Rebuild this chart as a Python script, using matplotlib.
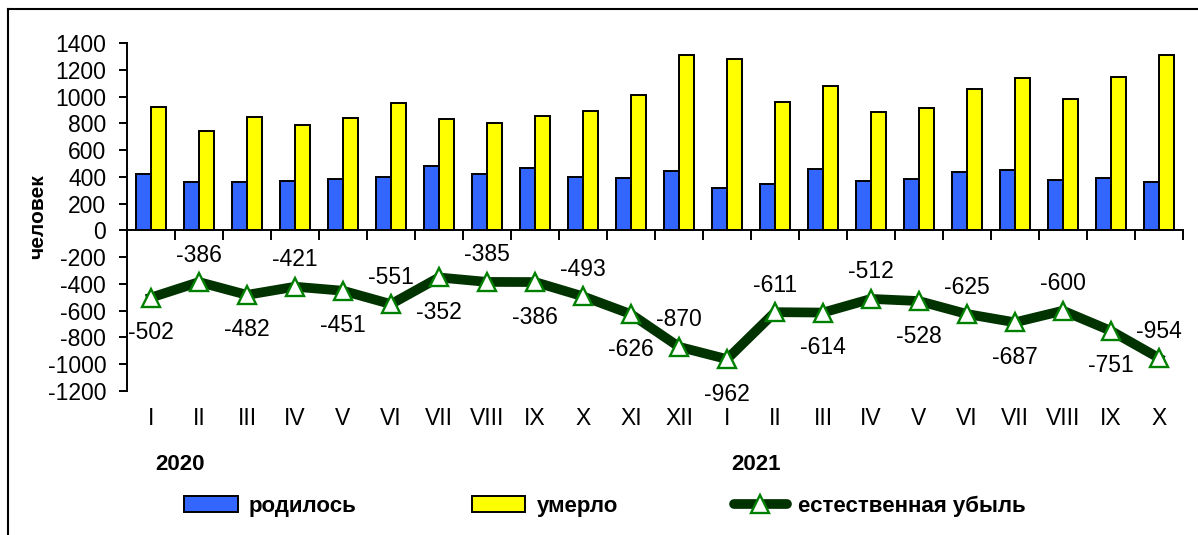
import matplotlib
matplotlib.use("Agg")
import matplotlib.pyplot as plt
from matplotlib.lines import Line2D
from matplotlib.patches import Patch
import numpy as np

plt.rcParams['font.family'] = ['Liberation Sans', 'DejaVu Sans']
plt.rcParams['axes.unicode_minus'] = False

months = ["I", "II", "III", "IV", "V", "VI", "VII", "VIII", "IX", "X", "XI", "XII",
          "I", "II", "III", "IV", "V", "VI", "VII", "VIII", "IX", "X"]
born = [420, 360, 365, 370, 385, 400, 480, 420, 465, 400, 388, 440,
        318, 345, 462, 370, 385, 434, 448, 380, 395, 360]
died = [922, 745, 848, 790, 836, 952, 833, 805, 851, 893, 1014, 1310,
        1280, 956, 1076, 882, 913, 1059, 1135, 980, 1146, 1314]
decrease = [-502, -386, -482, -421, -451, -551, -352, -385, -386, -493, -626, -870,
            -962, -611, -614, -512, -528, -625, -687, -600, -751, -954]
years = ["2020", "2021"]
year_pos = [0.6, 12.6]
legend_labels = ["родилось", "умерло", "естественная убыль"]

W, H = 1198, 535
fig = plt.figure(figsize=(W / 100, H / 100), dpi=100)
ax = fig.add_axes([127 / W, 1 - 391 / H, (1183 - 127) / W, (391 - 43) / H])

x = np.arange(len(months))
bw = 0.32
ax.bar(x - bw / 2, born, bw, color="#3366FF", edgecolor="black", linewidth=1.4, zorder=2)
ax.bar(x + bw / 2, died, bw, color="#FFFF00", edgecolor="black", linewidth=1.4, zorder=2)
ax.plot(x, decrease, color="#003300", linewidth=7, marker="^", markersize=12.5,
        markerfacecolor="white", markeredgecolor="#008000", markeredgewidth=1.7,
        solid_joinstyle="round", zorder=4)

FS = 16.5
for i, v in enumerate(decrease):
    off = (0, -35) if i % 2 == 0 else (0, 27)
    ax.annotate(str(v), (i, v), xytext=off, textcoords="offset pixels",
                ha="center", va="center", fontsize=FS, zorder=5)

ax.set_xlim(-0.5, len(months) - 0.5)
ax.set_ylim(-1200, 1400)
ax.set_yticks(np.arange(-1200, 1401, 200))
ax.tick_params(axis="y", labelsize=FS, length=6, width=1.4, direction="out", pad=9)

for s in ["top", "right"]:
    ax.spines[s].set_visible(False)
ax.spines["left"].set_linewidth(1.4)
ax.spines["bottom"].set_position(("data", 0))
ax.spines["bottom"].set_linewidth(1.4)
ax.set_xticks(np.arange(-0.5, len(months), 1.0))
ax.set_xticklabels([])
ax.tick_params(axis="x", length=7, width=1.4, direction="out")

for i, m in enumerate(months):
    ax.text(i, -1405, m, ha="center", va="center", fontsize=FS)
for yp, yl in zip(year_pos, years):
    ax.text(yp, -1750, yl, ha="center", va="center", fontsize=16, fontweight="bold")

ax.set_ylabel("человек", fontsize=15, fontweight="bold")
ax.yaxis.set_label_coords((47 - 127) / 1056, 0.5)

handles = [Patch(facecolor="#3366FF", edgecolor="black", linewidth=1.4),
           Patch(facecolor="#FFFF00", edgecolor="black", linewidth=1.4),
           Line2D([], [], color="#003300", linewidth=7, marker="^", markersize=12.5,
                  markerfacecolor="white", markeredgecolor="#008000", markeredgewidth=1.7,
                  solid_capstyle="round")]
leg = fig.legend(handles, legend_labels, ncol=3, loc="center",
                 bbox_to_anchor=(605 / W, 1 - 506 / H), frameon=False,
                 prop={"size": 16, "weight": "bold"}, handlelength=2.4,
                 handleheight=0.75, columnspacing=5.2, handletextpad=0.5)

# outer frame (cropped chart area border)
fig.add_artist(Line2D([8 / W, 1.0], [1 - 9 / H, 1 - 9 / H], color="black", linewidth=1.5,
                      transform=fig.transFigure))
fig.add_artist(Line2D([8 / W, 8 / W], [1 - 9 / H, 0.0], color="black", linewidth=1.5,
                      transform=fig.transFigure))

fig.savefig("out.png", dpi=100)
